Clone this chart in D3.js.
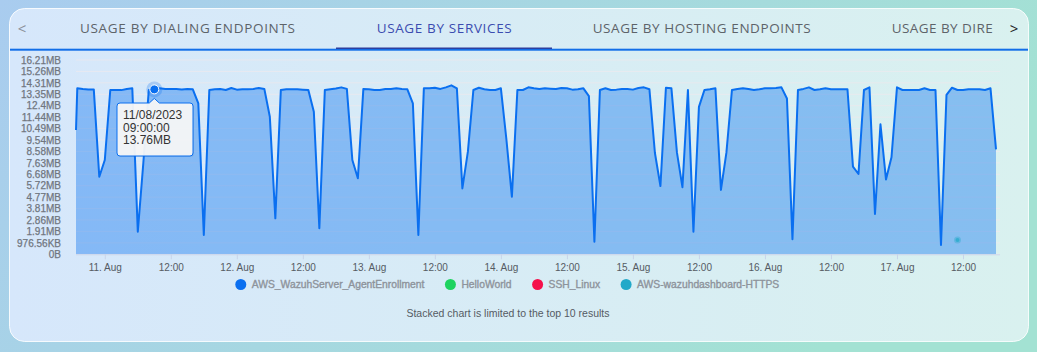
<!DOCTYPE html>
<html>
<head>
<meta charset="utf-8">
<script src="https://cdn.jsdelivr.net/npm/d3@7"></script>
<style>
html, body { margin: 0; padding: 0; }
body { width: 1037px; height: 352px; overflow: hidden; }
svg { display: block; font-family: "Liberation Sans", Arial, sans-serif; }
</style>
</head>
<body>
<svg id="chart" width="1037" height="352"></svg>
<script>
// tabs above the chart
var tabNames = ["USAGE BY DIALING ENDPOINTS", "USAGE BY SERVICES", "USAGE BY HOSTING ENDPOINTS", "USAGE BY DIRE"];
var activeTab = 1;

// legend series
var seriesNames = ["AWS_WazuhServer_AgentEnrollment", "HelloWorld", "SSH_Linux", "AWS-wazuhdashboard-HTTPS"];
var seriesColors = ["#0a6ff0", "#1ed35f", "#f5104a", "#22a9c9"];

// hourly samples of the first series (MB), starting 10 Aug 2023 19:00
var firstHour = new Date(2023, 7, 10, 19);
var edgeSample = {time: new Date(2023, 7, 10, 18, 46), mb: 10.37};
var enrollmentMB = [
  13.85, 13.79, 13.76, 13.76, 6.47, 7.87, 13.71, 13.71, 13.70, 13.80, 13.85, 1.89,
  7.60, 13.71, 13.76, 13.85, 13.80, 13.80, 13.80, 13.76, 13.80, 13.77, 12.60, 1.61,
  13.71, 13.77, 13.80, 13.71, 13.88, 13.74, 13.77, 13.77, 13.80, 13.88, 13.80, 11.48,
  3.00, 13.71, 13.77, 13.77, 13.77, 13.74, 13.71, 11.90, 2.17, 13.71, 13.77, 13.83,
  13.93, 13.80, 7.87, 6.34, 13.80, 13.77, 13.71, 13.71, 13.80, 13.80, 13.85, 13.80,
  13.77, 12.60, 1.61, 13.85, 13.85, 13.90, 13.80, 13.93, 14.10, 13.85, 5.50, 8.56,
  13.71, 13.90, 13.77, 13.71, 13.71, 13.85, 9.60, 4.80, 13.71, 13.71, 13.93, 13.85,
  13.80, 13.85, 13.82, 13.80, 13.88, 13.85, 13.74, 13.77, 13.85, 13.20, 1.05, 13.71,
  13.85, 13.71, 13.74, 13.80, 13.80, 13.74, 13.88, 13.93, 13.77, 8.45, 5.70, 13.90,
  13.85, 8.50, 5.60, 13.71, 1.89, 12.30, 13.71, 13.77, 13.85, 5.37, 8.50, 13.71,
  13.80, 13.85, 13.80, 13.71, 13.77, 13.85, 13.85, 13.88, 13.93, 13.00, 1.25, 13.71,
  13.80, 13.93, 13.71, 13.77, 13.85, 13.77, 13.77, 13.77, 13.77, 7.31, 6.70, 13.71,
  13.93, 3.36, 10.85, 6.25, 8.09, 13.93, 13.71, 13.71, 13.71, 13.71, 13.85, 13.71,
  13.71, 0.78, 13.30, 13.90, 13.71, 13.71, 13.77, 13.77, 13.77, 13.71, 13.85, 8.76
];

// single visible point of the dashboard series
var dashboardPoint = {time: new Date(2023, 7, 17, 11), mb: 1.19};

// axes
var xDomain = [new Date(2023, 7, 10, 18, 46), new Date(2023, 7, 17, 18)];
var firstTick = new Date(2023, 7, 11, 0);
var xTickLabels = ["11. Aug", "12:00", "12. Aug", "12:00", "13. Aug", "12:00", "14. Aug",
  "12:00", "15. Aug", "12:00", "16. Aug", "12:00", "17. Aug", "12:00"];
var yStepBytes = 1e6;
var yTickLabels = ["0B", "976.56KB", "1.91MB", "2.86MB", "3.81MB", "4.77MB", "5.72MB", "6.68MB",
  "7.63MB", "8.58MB", "9.54MB", "10.49MB", "11.44MB", "12.4MB", "13.35MB", "14.31MB", "15.26MB", "16.21MB"];

// hovered point
var tooltipIndex = 14;
var tooltipLines = ["11/08/2023", "09:00:00", "13.76MB"];
var caption = "Stacked chart is limited to the top 10 results";

var MB = 1048576;
var svg = d3.select('#chart');
var defs = svg.append('defs');

var bgGrad = defs.append('linearGradient').attr('id', 'bg').attr('x1', 0).attr('x2', 1).attr('y1', 0).attr('y2', 0.3);
bgGrad.append('stop').attr('offset', '0%').attr('stop-color', '#a9ccef');
bgGrad.append('stop').attr('offset', '100%').attr('stop-color', '#a3e2d3');
var cardGrad = defs.append('linearGradient').attr('id', 'card').attr('x1', 0).attr('x2', 1).attr('y1', 0).attr('y2', 0);
cardGrad.append('stop').attr('offset', '0%').attr('stop-color', '#d6e7fb');
cardGrad.append('stop').attr('offset', '100%').attr('stop-color', '#d9f1ef');

svg.append('rect').attr('width', 1037).attr('height', 352).attr('fill', 'url(#bg)');
svg.append('rect').attr('x', 9.5).attr('y', 8.5).attr('width', 1019).attr('height', 333).attr('rx', 15)
  .attr('fill', 'url(#card)').attr('stroke', 'rgba(255,255,255,0.85)');

// tabs
var tabX = [80, 376.7, 592.7, 891.7];
var tabW = [215, 135, 218, 101];
svg.append('g').selectAll('text').data(tabNames).enter().append('text')
  .attr('x', (d, i) => tabX[i]).attr('y', 33)
  .attr('textLength', (d, i) => tabW[i]).attr('lengthAdjust', 'spacing')
  .style('font-family', '"Open Sans", sans-serif').style('font-size', '13.5px')
  .attr('fill', (d, i) => i == activeTab ? '#3b4cb0' : '#5d6369')
  .text(d => d);
svg.append('text').attr('x', 22).attr('y', 34).attr('text-anchor', 'middle')
  .style('font-family', '"Open Sans", sans-serif').style('font-size', '15px').attr('fill', '#8a9099').text('<');
svg.append('text').attr('x', 1014).attr('y', 34).attr('text-anchor', 'middle')
  .style('font-family', '"Open Sans", sans-serif').style('font-size', '15px').attr('fill', '#222').text('>');
svg.append('rect').attr('x', 10).attr('y', 48.7).attr('width', 1018).attr('height', 2).attr('fill', '#126ee8');
svg.append('rect').attr('x', 336).attr('y', 47.5).attr('width', 216).attr('height', 1.5).attr('fill', '#2c3f9f');

// scales
var plotLeft = 76, plotRight = 1000, plotTop = 60, plotBottom = 254.3;
var x = d3.scaleTime().domain(xDomain).range([plotLeft, 996]);
var y = d3.scaleLinear().domain([0, 17 * yStepBytes]).range([plotBottom, plotTop]);

var points = [{time: edgeSample.time, mb: edgeSample.mb}];
enrollmentMB.forEach((v, i) => points.push({time: d3.timeHour.offset(firstHour, i), mb: v}));

var yTicks = yTickLabels.map((d, i) => i * yStepBytes);
var xTicks = xTickLabels.map((d, i) => d3.timeHour.offset(firstTick, i * 12));

// grid
svg.append('g').selectAll('line').data(yTicks).enter().append('line')
  .attr('x1', plotLeft).attr('x2', plotRight)
  .attr('y1', d => y(d)).attr('y2', d => y(d))
  .attr('stroke', 'rgba(238,232,238,0.75)').attr('stroke-width', 1);

// area + line
var area = d3.area().x(d => x(d.time)).y0(y(0)).y1(d => y(d.mb * MB));
var line = d3.line().x(d => x(d.time)).y(d => y(d.mb * MB));
svg.append('path').datum(points).attr('d', area).attr('fill', '#0b74f0').attr('fill-opacity', 0.4);
svg.append('path').datum(points).attr('d', line).attr('fill', 'none')
  .attr('stroke', seriesColors[0]).attr('stroke-width', 2).attr('stroke-linejoin', 'round');

// dashboard series marker
svg.append('circle').attr('cx', x(dashboardPoint.time)).attr('cy', y(dashboardPoint.mb * MB)).attr('r', 3.5)
  .attr('fill', seriesColors[3]).attr('fill-opacity', 0.35);
svg.append('circle').attr('cx', x(dashboardPoint.time)).attr('cy', y(dashboardPoint.mb * MB)).attr('r', 2)
  .attr('fill', seriesColors[3]).attr('fill-opacity', 0.7);

// y axis
var yAxis = svg.append('g').attr('transform', `translate(${plotLeft - 12},0)`)
  .call(d3.axisLeft(y).tickValues(yTicks).tickSize(0).tickFormat((d, i) => yTickLabels[i]));
yAxis.select('.domain').remove();
yAxis.selectAll('text').attr('fill', '#70767f').style('font-size', '10px')
  .attr('stroke', '#70767f').attr('stroke-width', 0.25);

// x axis
var xAxis = svg.append('g').attr('transform', `translate(0,${plotBottom})`)
  .call(d3.axisBottom(x).tickValues(xTicks).tickSize(5).tickPadding(5).tickFormat((d, i) => xTickLabels[i]));
xAxis.select('.domain').attr('d', `M${plotLeft},0.5H${plotRight}`).attr('stroke', '#cdd8ec');
xAxis.selectAll('.tick line').attr('stroke', '#c8d4ea');
xAxis.selectAll('text').attr('fill', '#555b63').style('font-size', '10px');

// hovered point and tooltip
var hp = points[tooltipIndex + 1];
var hx = x(hp.time), hy = y(hp.mb * MB);
svg.append('circle').attr('cx', hx).attr('cy', hy).attr('r', 8).attr('fill', seriesColors[0]).attr('fill-opacity', 0.25);
svg.append('circle').attr('cx', hx).attr('cy', hy).attr('r', 4.5).attr('fill', seriesColors[0])
  .attr('stroke', '#fff').attr('stroke-width', 1);

var tx0 = 117, tx1 = 193, ty0 = 103, ty1 = 156;
var tip = d3.path();
tip.moveTo(tx0 + 3, ty0);
tip.lineTo(hx - 5, ty0);
tip.lineTo(hx, hy + 9);
tip.lineTo(hx + 5, ty0);
tip.lineTo(tx1 - 3, ty0);
tip.quadraticCurveTo(tx1, ty0, tx1, ty0 + 3);
tip.lineTo(tx1, ty1 - 3);
tip.quadraticCurveTo(tx1, ty1, tx1 - 3, ty1);
tip.lineTo(tx0 + 3, ty1);
tip.quadraticCurveTo(tx0, ty1, tx0, ty1 - 3);
tip.lineTo(tx0, ty0 + 3);
tip.quadraticCurveTo(tx0, ty0, tx0 + 3, ty0);
tip.closePath();
svg.append('path').attr('d', tip.toString()).attr('transform', 'translate(1,1)')
  .attr('fill', 'rgba(0,0,0,0.06)');
svg.append('path').attr('d', tip.toString()).attr('fill', 'rgba(247,247,247,0.95)')
  .attr('stroke', seriesColors[0]).attr('stroke-width', 1);
svg.append('g').selectAll('text').data(tooltipLines).enter().append('text')
  .attr('x', 123).attr('y', (d, i) => 119 + i * 12.7)
  .style('font-size', '12px').attr('fill', '#333').text(d => d);

// legend
var legend = svg.append('g');
var cursor = 0;
seriesNames.forEach(function(name, i) {
  var item = legend.append('g').attr('transform', `translate(${cursor},0)`);
  item.append('circle').attr('cx', 5).attr('cy', 0).attr('r', 5.5).attr('fill', seriesColors[i]);
  var t = item.append('text').attr('x', 16).attr('y', 3.8).style('font-size', '10.3px')
    .attr('fill', '#8d939b').attr('stroke', '#8d939b').attr('stroke-width', 0.35).text(name);
  cursor += 16 + t.node().getComputedTextLength() + 21;
});
cursor -= 21;
legend.attr('transform', `translate(${507.5 - cursor / 2},284.5)`);

svg.append('text').attr('x', 508).attr('y', 316.5).attr('text-anchor', 'middle')
  .style('font-size', '10.5px').attr('fill', '#555b63').text(caption);
</script>
</body>
</html>
